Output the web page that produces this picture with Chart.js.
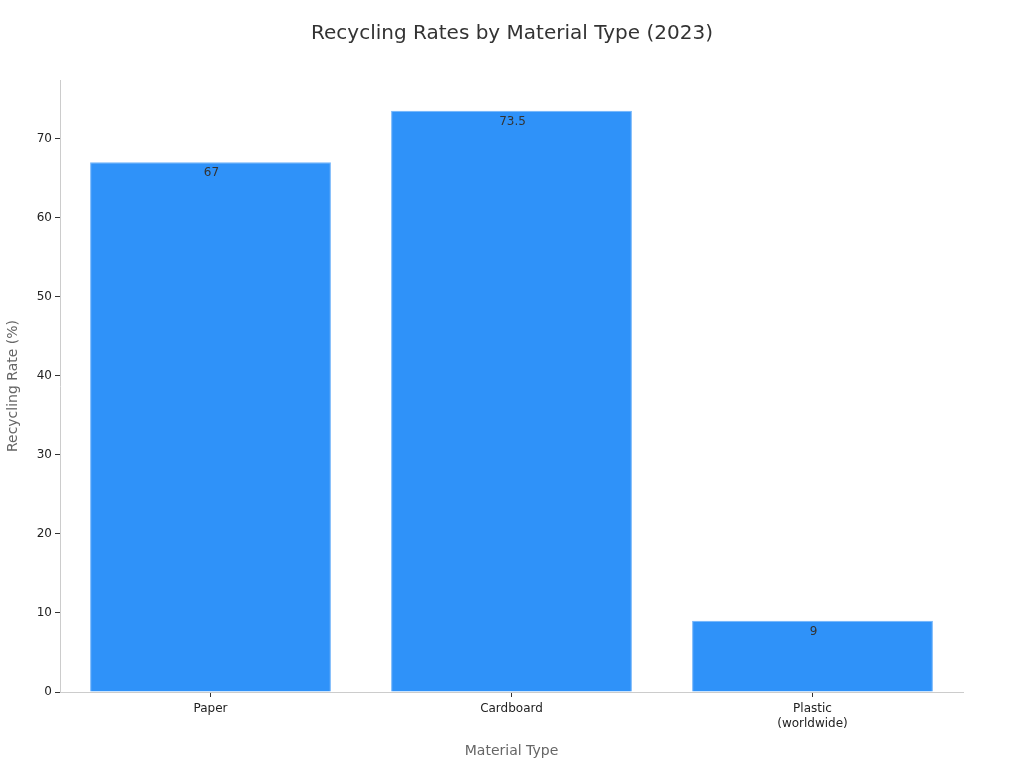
<!DOCTYPE html>
<html>
<head>
<meta charset="utf-8">
<script src="https://cdn.jsdelivr.net/npm/chart.js@4/dist/chart.umd.min.js"></script>
<style>
html,body{margin:0;padding:0;background:#fff;}
#wrap{width:1024px;height:768px;}
</style>
</head>
<body>
<div id="wrap"><canvas id="c" width="1024" height="768"></canvas></div>
<script>
const chartTitle = 'Recycling Rates by Material Type (2023)';
const categories = [["Paper"], ["Cardboard"], ["Plastic", "(worldwide)"]];
const rates = [67, 73.5, 9];
const yTicks = [0, 10, 20, 30, 40, 50, 60, 70];

const FONT = "'DejaVu Sans', sans-serif";

const barLabels = {
  id: 'barLabels',
  afterDatasetsDraw(chart) {
    const ctx = chart.ctx;
    const meta = chart.getDatasetMeta(0);
    ctx.save();
    ctx.font = "12px " + FONT;
    ctx.fillStyle = '#333';
    ctx.textAlign = 'center';
    ctx.textBaseline = 'middle';
    meta.data.forEach((bar, i) => {
      ctx.fillText(String(rates[i]), bar.x + 1, bar.y + 11);
    });
    ctx.restore();
  }
};

const pageTitle = {
  id: 'pageTitle',
  afterDraw(chart) {
    const ctx = chart.ctx;
    ctx.save();
    ctx.font = "20px " + FONT;
    ctx.fillStyle = '#333';
    ctx.textAlign = 'center';
    ctx.textBaseline = 'middle';
    ctx.fillText(chartTitle, chart.width / 2, 34);
    ctx.restore();
  }
};

new Chart(document.getElementById('c'), {
  type: 'bar',
  data: {
    labels: categories,
    datasets: [{
      data: rates,
      backgroundColor: '#2f92f9',
      borderColor: '#6fb3fb',
      borderWidth: 1,
      categoryPercentage: 0.8,
      barPercentage: 1.0
    }]
  },
  options: {
    responsive: false,
    animation: false,
    layout: { padding: { left: 0, right: 61, top: 80, bottom: 0 } },
    plugins: {
      legend: { display: false },
      tooltip: { enabled: false },
      title: { display: false }
    },
    scales: {
      x: {
        afterFit(s) { s.height = 76; },
        grid: { display: true, drawOnChartArea: false, offset: false, tickLength: 5, color: '#333' },
        border: { display: true, color: '#ccc' },
        ticks: { color: '#222', font: { family: FONT, size: 12 }, padding: 5, maxRotation: 0 },
        title: {
          display: true, text: 'Material Type', color: '#666',
          font: { family: FONT, size: 14 }, padding: { top: 13, bottom: 8 }
        }
      },
      y: {
        min: 0,
        max: 77.4,
        afterFit(s) { s.width = 60; },
        afterBuildTicks(s) { s.ticks = yTicks.map(v => ({ value: v })); },
        grid: { display: true, drawOnChartArea: false, tickLength: 5, color: '#333' },
        border: { display: true, color: '#ccc' },
        ticks: { color: '#222', font: { family: FONT, size: 12 }, padding: 3, stepSize: 10 },
        title: {
          display: true, text: 'Recycling Rate (%)', color: '#666',
          font: { family: FONT, size: 14 }, padding: { top: 5, bottom: 4 }
        }
      }
    }
  },
  plugins: [barLabels, pageTitle]
});
</script>
</body>
</html>
